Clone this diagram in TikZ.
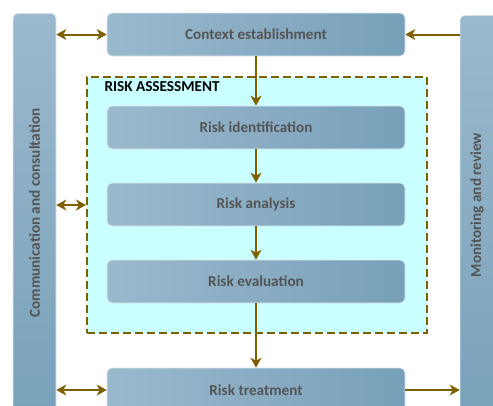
\documentclass[tikz,border=0pt]{standalone}
\usepackage{fontspec}
\setmainfont{Carlito}
\usetikzlibrary{arrows.meta}
\definecolor{boxA}{HTML}{9BB9CD}
\definecolor{boxB}{HTML}{77A0B9}
\definecolor{txt}{HTML}{545454}
\definecolor{arr}{HTML}{7F6000}
\definecolor{cyanfill}{HTML}{C9FFFF}
\begin{document}
\begin{tikzpicture}[x=1pt,y=-1pt,
  procbox/.style={rounded corners=5pt, left color=boxA, right color=boxB, draw=white!70!boxA, line width=0.6pt,
    minimum width=298pt, minimum height=43pt, inner sep=0pt, text=txt, font=\fontsize{15.2}{17}\selectfont\bfseries},
  barbox/.style={rounded corners=5pt, top color=boxA, bottom color=boxB, draw=white!70!boxA, line width=0.6pt,
    minimum width=43pt, minimum height=420pt, inner sep=0pt, anchor=north},
  barlabel/.style={rotate=90, text=txt, font=\fontsize{15.2}{17}\selectfont\bfseries},
  conn/.style={draw=arr, line width=2pt, -{Stealth[length=10pt,width=11pt,inset=3pt]}},
  dconn/.style={draw=arr, line width=2pt, {Stealth[length=10pt,width=11pt,inset=3pt]}-{Stealth[length=10pt,width=11pt,inset=3pt]}},
  assess/.style={fill=cyanfill, draw=arr, line width=2pt, dash pattern=on 8pt off 4pt,
    minimum width=340pt, minimum height=256pt, inner sep=0pt}
]
\useasboundingbox (0,0) rectangle (493,405);
\clip (0,0) rectangle (493,405);
\fill[white] (0,0) rectangle (493,405);

\node[barbox] (comm) at (34.5,13) {};
\node[barlabel] (commlab) at (34.5,213) {Communication and consultation};
\node[barbox, minimum width=45pt] (mon) at (482.5,15) {};
\node[barlabel] (monlab) at (477,205) {Monitoring and review};

\node[assess] (ra) at (257,205) {};
\node[anchor=west, font=\fontsize{15.2}{17}\selectfont\bfseries] (ralab) at (101,87) {RISK ASSESSMENT};

\node[procbox] (ctx) at (256,34.5) {Context establishment};
\node[procbox] (ri) at (256,127.5) {Risk identification};
\node[procbox] (ran) at (256,204.5) {Risk analysis};
\node[procbox] (rev) at (256,281.5) {Risk evaluation};
\node[procbox, minimum height=44pt] (tr) at (256,390) {Risk treatment};

\draw[dconn] (comm.east |- ctx.west) -- (ctx.west);
\draw[conn] (mon.west |- ctx.east) -- (ctx.east);
\draw[dconn] (comm.east |- ra.west) -- (ra.west);
\draw[dconn] (comm.east |- tr.west) -- (tr.west);
\draw[conn] (tr.east) -- (mon.west |- tr.east);

\draw[conn] (ctx) -- (ri);
\draw[conn] (ri) -- (ran);
\draw[conn] (ran) -- (rev);
\draw[conn] (rev) -- (tr);
\end{tikzpicture}
\end{document}
